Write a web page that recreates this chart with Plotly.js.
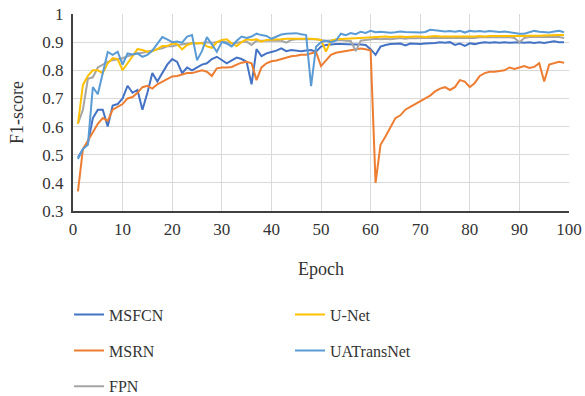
<!DOCTYPE html>
<html>
<head>
<meta charset="utf-8">
<script src="https://cdn.plot.ly/plotly-3.0.1.min.js"></script>
<style>html,body{margin:0;padding:0;background:#fff;}#chart{width:585px;height:396px;}</style>
</head>
<body>
<div id="chart"></div>
<script>
const epochs = Array.from({length: 99}, (_, i) => i + 1);

const seriesNames = ["MSFCN", "MSRN", "FPN", "U-Net", "UATransNet"];

const msfcn = [0.49,0.52,0.54,0.63,0.66,0.66,0.60,0.675,0.68,0.70,
0.745,0.72,0.73,0.66,0.72,0.79,0.76,0.79,0.82,0.84,
0.83,0.79,0.81,0.80,0.81,0.82,0.825,0.84,0.848,0.835,
0.825,0.835,0.845,0.84,0.83,0.75,0.875,0.85,0.86,0.865,
0.87,0.878,0.868,0.872,0.87,0.868,0.87,0.872,0.866,0.884,
0.89,0.892,0.893,0.893,0.892,0.893,0.892,0.892,0.89,0.875,
0.855,0.884,0.89,0.893,0.895,0.895,0.888,0.895,0.894,0.893,
0.895,0.895,0.897,0.90,0.898,0.90,0.89,0.895,0.887,0.896,
0.893,0.897,0.90,0.898,0.90,0.898,0.90,0.898,0.90,0.90,
0.898,0.90,0.897,0.90,0.897,0.90,0.903,0.90,0.90];

const msrn = [0.37,0.52,0.55,0.58,0.61,0.63,0.62,0.66,0.67,0.68,
0.70,0.705,0.72,0.74,0.745,0.735,0.75,0.76,0.77,0.778,
0.78,0.785,0.79,0.79,0.795,0.80,0.795,0.78,0.807,0.81,
0.81,0.812,0.82,0.827,0.83,0.825,0.765,0.81,0.825,0.832,
0.835,0.84,0.843,0.85,0.852,0.855,0.855,0.86,0.865,0.815,
0.835,0.855,0.862,0.865,0.87,0.872,0.875,0.877,0.875,0.87,
0.40,0.535,0.565,0.595,0.63,0.64,0.66,0.67,0.68,0.69,
0.70,0.71,0.725,0.735,0.74,0.73,0.74,0.765,0.76,0.74,
0.755,0.78,0.79,0.795,0.795,0.798,0.80,0.81,0.805,0.81,
0.815,0.808,0.812,0.825,0.76,0.82,0.825,0.83,0.827];

const fpn = [0.61,0.66,0.77,0.775,0.81,0.82,0.83,0.836,0.84,0.843,
0.85,0.855,0.86,0.862,0.865,0.87,0.875,0.878,0.885,0.885,
0.89,0.892,0.895,0.897,0.895,0.898,0.90,0.898,0.90,0.902,
0.90,0.895,0.898,0.90,0.902,0.89,0.905,0.905,0.905,0.905,
0.906,0.905,0.898,0.908,0.91,0.91,0.91,0.912,0.91,0.908,
0.905,0.906,0.908,0.908,0.905,0.904,0.868,0.905,0.908,0.91,
0.912,0.91,0.912,0.91,0.912,0.915,0.912,0.915,0.914,0.915,
0.915,0.916,0.915,0.915,0.916,0.915,0.914,0.916,0.915,0.916,
0.915,0.917,0.916,0.917,0.917,0.916,0.917,0.918,0.915,0.90,
0.915,0.918,0.918,0.918,0.919,0.92,0.92,0.918,0.915];

const unet = [0.61,0.748,0.78,0.80,0.80,0.79,0.825,0.843,0.84,0.80,
0.825,0.85,0.875,0.872,0.866,0.868,0.875,0.886,0.886,0.895,
0.893,0.874,0.89,0.896,0.897,0.896,0.885,0.88,0.90,0.908,
0.91,0.896,0.886,0.90,0.91,0.908,0.91,0.902,0.908,0.908,
0.91,0.91,0.912,0.912,0.912,0.913,0.912,0.912,0.91,0.908,
0.866,0.905,0.91,0.912,0.912,0.913,0.914,0.915,0.916,0.918,
0.918,0.918,0.92,0.918,0.92,0.92,0.918,0.92,0.92,0.92,
0.918,0.92,0.922,0.92,0.92,0.92,0.918,0.918,0.92,0.92,
0.92,0.922,0.92,0.922,0.922,0.92,0.922,0.922,0.922,0.922,
0.922,0.923,0.922,0.923,0.924,0.925,0.924,0.925,0.925];

const uatransnet = [0.485,0.52,0.535,0.74,0.715,0.79,0.865,0.855,0.866,0.82,
0.86,0.856,0.86,0.848,0.855,0.87,0.896,0.918,0.91,0.90,
0.902,0.898,0.92,0.925,0.836,0.868,0.918,0.89,0.866,0.90,
0.895,0.885,0.905,0.92,0.915,0.92,0.93,0.925,0.922,0.912,
0.92,0.927,0.93,0.93,0.932,0.928,0.925,0.744,0.884,0.90,
0.905,0.90,0.905,0.93,0.925,0.932,0.928,0.937,0.933,0.94,
0.935,0.937,0.935,0.933,0.935,0.938,0.936,0.935,0.935,0.934,
0.936,0.944,0.942,0.94,0.938,0.94,0.937,0.94,0.934,0.94,
0.938,0.94,0.937,0.94,0.938,0.936,0.938,0.935,0.933,0.93,
0.93,0.936,0.94,0.937,0.935,0.934,0.938,0.94,0.935];

const seriesValues = [msfcn, msrn, fpn, unet, uatransnet];
const colors = ["#4472C4", "#ED7D31", "#A5A5A5", "#FFC000", "#5B9BD5"];
const legendIds = ["legend", "legend", "legend", "legend2", "legend2"];

const xTicks = [0,10,20,30,40,50,60,70,80,90,100];
const yTicks = [0.3,0.4,0.5,0.6,0.7,0.8,0.9,1];
const yTickText = ["0.3","0.4","0.5","0.6","0.7","0.8","0.9","1"];

const FONT = "Liberation Serif, Times New Roman, serif";
const TXT = "#333333";

const traces = seriesNames.map((name, i) => ({
  x: epochs,
  y: seriesValues[i],
  name: name,
  type: "scatter",
  mode: "lines",
  line: {color: colors[i], width: 2},
  legend: legendIds[i],
  legendgroup: "g" + i
}));

const legendCommon = {
  orientation: "v",
  xanchor: "left",
  yanchor: "top",
  font: {family: FONT, size: 16, color: TXT},
  bgcolor: "rgba(0,0,0,0)",
  tracegroupgap: 12,
  itemwidth: 30
};

const layout = {
  width: 585,
  height: 396,
  margin: {l: 73, r: 16, t: 14, b: 185, autoexpand: false},
  paper_bgcolor: "#ffffff",
  plot_bgcolor: "#ffffff",
  font: {family: FONT, size: 17, color: TXT},
  showlegend: true,
  legend: Object.assign({}, legendCommon, {x: -0.008, y: -0.44}),
  legend2: Object.assign({}, legendCommon, {x: 0.4375, y: -0.44}),
  xaxis: {
    range: [0, 100],
    tickvals: xTicks,
    ticktext: xTicks.map(String),
    showgrid: true,
    gridcolor: "#D9D9D9",
    gridwidth: 1,
    zeroline: false,
    showline: true,
    linecolor: "#404040",
    linewidth: 2,
    ticks: "",
    ticklabelstandoff: 2,
    tickfont: {family: FONT, size: 17, color: TXT},
    title: {text: "Epoch", font: {family: FONT, size: 18, color: TXT}, standoff: 24}
  },
  yaxis: {
    range: [0.3, 1],
    tickvals: yTicks,
    ticktext: yTickText,
    showgrid: true,
    gridcolor: "#D9D9D9",
    gridwidth: 1,
    zeroline: false,
    showline: true,
    linecolor: "#404040",
    linewidth: 2,
    ticks: "",
    ticklabelstandoff: 4,
    tickfont: {family: FONT, size: 17, color: TXT},
    title: {text: "F1-score", font: {family: FONT, size: 18, color: TXT}, standoff: 14}
  }
};

Plotly.newPlot("chart", traces, layout, {staticPlot: true, displayModeBar: false});
</script>
</body>
</html>
